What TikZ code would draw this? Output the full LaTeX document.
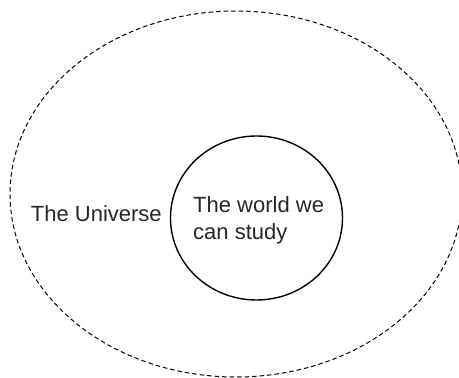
\documentclass[tikz,border=0pt]{standalone}
\usepackage{fontspec}
\setmainfont{Liberation Sans}
\begin{document}
\begin{tikzpicture}[x=1pt,y=1pt,
  lbl/.style={inner sep=0pt, anchor=base west, font=\fontsize{22}{27}\selectfont, text=black!85}]
\useasboundingbox (0,0) rectangle (459,378);
\begin{scope}
\clip (0,0) rectangle (459,378);
\draw[line width=1pt, dash pattern=on 4.5pt off 3pt] (236,184) ellipse [x radius=226, y radius=183];
\end{scope}
\draw[line width=1.4pt] (256.5,160) ellipse [x radius=86, y radius=82];
\node[lbl] (univ) at (30.7,156) {The Universe};
\node[lbl] (w1) at (193,165) {The world we};
\node[lbl] (w2) at (193,138) {can study};
\end{tikzpicture}
\end{document}
